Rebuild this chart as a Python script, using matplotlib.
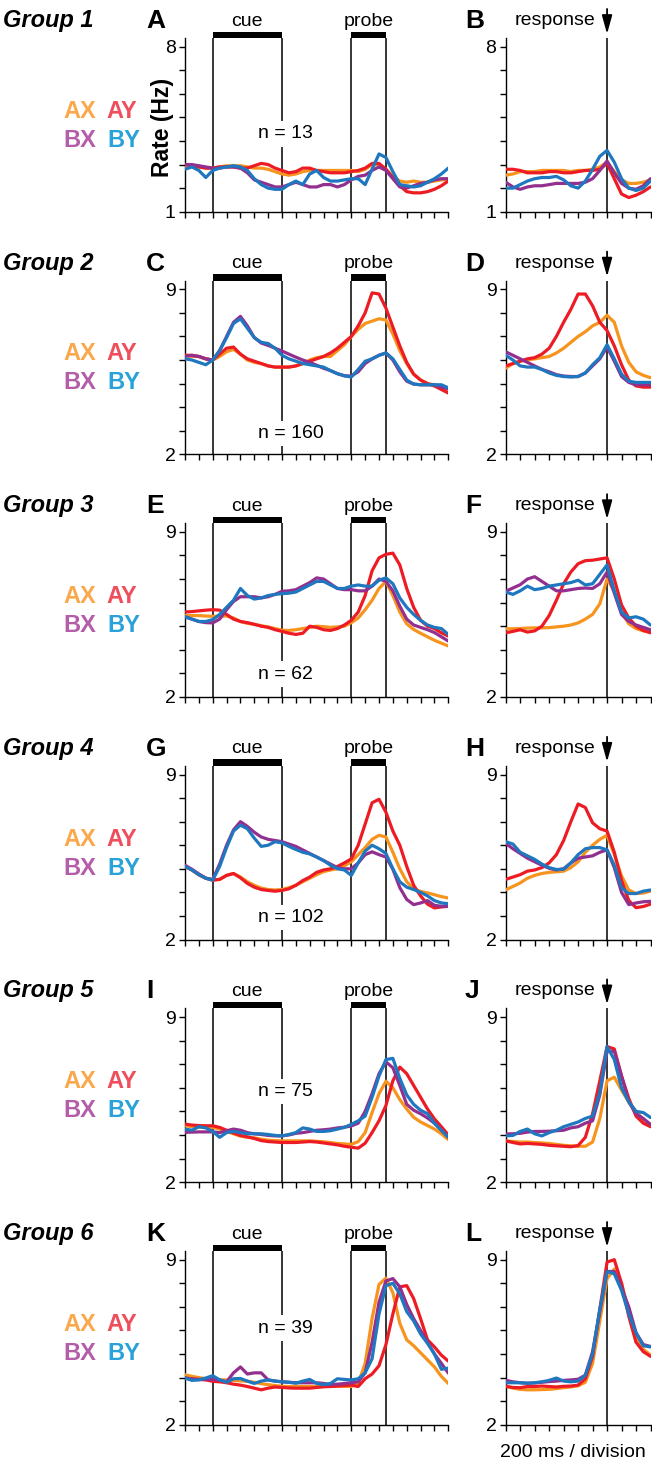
import numpy as np
import matplotlib.pyplot as plt
from matplotlib.patches import Rectangle

plt.rcParams['font.family'] = ['Liberation Sans', 'DejaVu Sans']

W, H = 652, 1463

# time grids (ms): trial-aligned and response-aligned
t_trial = np.arange(-400, 3401, 100)
t_resp = np.arange(-1400, 601, 100)

cue = (0, 1000)
probe = (2000, 2500)

conds = ['AX', 'AY', 'BX', 'BY']
line_colors = ['#F7941D', '#ED1C24', '#93308F', '#1F78BF']
label_colors = ['#F9A84C', '#EF4F5C', '#B45DA8', '#28A2D8']

groups = ['Group 1', 'Group 2', 'Group 3', 'Group 4', 'Group 5', 'Group 6']
letters = [('A', 'B'), ('C', 'D'), ('E', 'F'), ('G', 'H'), ('I', 'J'), ('K', 'L')]
n_cells = [13, 160, 62, 102, 75, 39]
n_ypos = [4.3, 2.87, 2.97, 2.94, 5.83, 6.1]
y_ranges = [(1, 8), (2, 9), (2, 9), (2, 9), (2, 9), (2, 9)]

# ---- Group 1 ----
g1_ax = [2.9, 2.95, 2.9, 2.85, 2.85, 2.9, 2.95, 2.95, 2.95, 2.9, 2.85, 2.85, 2.8, 2.7, 2.6, 2.55, 2.6, 2.7, 2.75, 2.75,
         2.75, 2.75, 2.75, 2.75, 2.75, 2.7, 2.8, 3.0, 3.0, 2.8, 2.5, 2.3, 2.25, 2.3, 2.25, 2.25, 2.3, 2.35, 2.35]
g1_ay = [3.0, 2.95, 2.9, 2.85, 2.85, 2.9, 2.9, 2.9, 2.85, 2.85, 2.95, 3.05, 3.0, 2.85, 2.75, 2.65, 2.7, 2.85, 2.85, 2.75,
         2.7, 2.65, 2.65, 2.65, 2.7, 2.75, 2.85, 3.05, 3.05, 2.8, 2.45, 2.1, 1.85, 1.8, 1.8, 1.85, 1.95, 2.1, 2.3]
g1_bx = [3.0, 3.0, 2.95, 2.9, 2.85, 2.85, 2.9, 2.9, 2.85, 2.65, 2.35, 2.25, 2.15, 2.05, 2.05, 2.15, 2.25, 2.15, 2.05, 2.05,
         2.15, 2.15, 2.05, 2.15, 2.35, 2.5, 2.55, 2.75, 2.9, 2.75, 2.4, 2.05, 2.0, 2.1, 2.2, 2.25, 2.35, 2.4, 2.4]
g1_by = [2.8, 2.9, 2.75, 2.45, 2.75, 2.85, 2.9, 2.95, 2.9, 2.75, 2.4, 2.15, 2.0, 1.95, 1.95, 2.15, 2.3, 2.15, 2.6, 2.75,
         2.45, 2.3, 2.3, 2.35, 2.4, 2.4, 2.15, 2.8, 3.45, 3.3, 2.7, 2.15, 2.1, 2.05, 2.1, 2.25, 2.4, 2.6, 2.85]
g1_ax_r = [2.55, 2.6, 2.7, 2.7, 2.7, 2.75, 2.75, 2.75, 2.75, 2.7, 2.75, 2.75, 2.8, 2.9, 3.1, 2.7, 2.35, 2.2, 2.2, 2.25, 2.35]
g1_ay_r = [2.8, 2.8, 2.75, 2.65, 2.65, 2.65, 2.7, 2.7, 2.65, 2.65, 2.7, 2.75, 2.75, 2.8, 3.05, 2.4, 1.75, 1.6, 1.7, 1.85, 2.05]
g1_bx_r = [2.25, 2.05, 1.95, 2.05, 2.1, 2.1, 2.15, 2.2, 2.2, 2.2, 2.2, 2.25, 2.4, 2.75, 3.15, 2.65, 2.2, 2.0, 1.95, 2.1, 2.4]
g1_by_r = [2.0, 2.0, 2.15, 2.3, 2.4, 2.45, 2.45, 2.5, 2.35, 2.1, 2.0, 2.3, 2.8, 3.35, 3.6, 3.1, 2.4, 2.0, 1.9, 2.0, 2.3]

# ---- Group 2 ----
g2_ax = [6.2, 6.15, 6.15, 6.05, 6.0, 6.15, 6.35, 6.45, 6.25, 6.0, 5.9, 5.85, 5.75, 5.7, 5.7, 5.7, 5.75, 5.85, 6.0, 6.1,
         6.15, 6.15, 6.4, 6.65, 7.0, 7.3, 7.55, 7.65, 7.75, 7.7, 7.1, 6.4, 5.85, 5.4, 5.15, 5.0, 4.95, 4.85, 4.75]
g2_ay = [6.2, 6.2, 6.15, 6.05, 6.0, 6.25, 6.5, 6.55, 6.25, 6.05, 5.95, 5.85, 5.75, 5.7, 5.7, 5.7, 5.75, 5.85, 5.95, 6.05,
         6.15, 6.3, 6.5, 6.75, 7.0, 7.45, 8.0, 8.85, 8.8, 8.2, 7.4, 6.6, 5.9, 5.4, 5.15, 5.0, 4.9, 4.75, 4.6]
g2_bx = [6.15, 6.2, 6.15, 6.05, 6.0, 6.4, 7.0, 7.6, 7.85, 7.45, 6.95, 6.72, 6.62, 6.5, 6.38, 6.25, 6.12, 6.0, 5.9, 5.78,
         5.65, 5.55, 5.42, 5.33, 5.32, 5.5, 5.85, 6.05, 6.2, 6.3, 6.0, 5.5, 5.1, 4.98, 4.95, 4.95, 4.95, 4.85, 4.78]
g2_by = [6.05, 6.0, 5.9, 5.8, 6.0, 6.4, 6.95, 7.55, 7.75, 7.35, 6.95, 6.75, 6.7, 6.5, 6.2, 6.05, 5.95, 5.85, 5.8, 5.75,
         5.7, 5.55, 5.42, 5.33, 5.28, 5.6, 5.95, 6.05, 6.2, 6.3, 6.05, 5.6, 5.15, 4.98, 4.95, 4.95, 4.95, 4.95, 4.82]
g2_ax_r = [5.65, 5.85, 5.95, 6.0, 6.05, 6.1, 6.15, 6.3, 6.5, 6.75, 7.0, 7.2, 7.45, 7.6, 7.9, 7.6, 6.6, 5.9, 5.5, 5.35, 5.25]
g2_ay_r = [5.75, 5.85, 5.95, 6.05, 6.1, 6.25, 6.5, 7.0, 7.6, 8.15, 8.8, 8.8, 8.3, 7.6, 7.25, 6.6, 5.8, 5.15, 4.9, 4.85, 4.85]
g2_bx_r = [6.35, 6.2, 6.05, 5.9, 5.75, 5.6, 5.5, 5.38, 5.32, 5.3, 5.3, 5.45, 5.75, 6.05, 6.55, 5.95, 5.3, 5.05, 4.95, 4.95, 4.95]
g2_by_r = [6.2, 6.0, 5.75, 5.7, 5.7, 5.6, 5.45, 5.35, 5.3, 5.28, 5.3, 5.45, 5.8, 6.1, 6.65, 6.05, 5.4, 5.1, 5.05, 5.05, 5.05]

# ---- Group 3 ----
g3_ax = [5.45, 5.45, 5.45, 5.43, 5.42, 5.42, 5.43, 5.35, 5.2, 5.12, 5.08, 5.02, 4.97, 4.9, 4.83, 4.82, 4.85, 4.9, 4.95, 5.0,
         4.98, 4.95, 4.97, 5.0, 5.15, 5.35, 5.7, 6.1, 6.6, 6.9, 6.3, 5.6, 5.1, 4.86, 4.7, 4.55, 4.4, 4.28, 4.16]
g3_ay = [5.6, 5.62, 5.65, 5.68, 5.7, 5.68, 5.5, 5.3, 5.2, 5.15, 5.08, 5.0, 4.95, 4.85, 4.78, 4.7, 4.65, 4.7, 5.0, 4.95,
         4.85, 4.82, 4.9, 5.05, 5.25, 5.6, 6.3, 7.35, 7.9, 8.05, 8.1, 7.6, 6.6, 5.8, 5.25, 5.0, 4.9, 4.72, 4.58]
g3_bx = [5.4, 5.3, 5.2, 5.15, 5.14, 5.3, 5.7, 6.05, 6.25, 6.25, 6.25, 6.2, 6.25, 6.35, 6.48, 6.5, 6.55, 6.7, 6.85, 7.05,
         7.0, 6.8, 6.6, 6.55, 6.55, 6.5, 6.5, 6.7, 7.0, 6.9, 6.5, 5.85, 5.3, 5.05, 4.95, 4.85, 4.73, 4.55, 4.37]
g3_by = [5.4, 5.3, 5.2, 5.2, 5.28, 5.5, 5.8, 6.1, 6.6, 6.3, 6.15, 6.2, 6.3, 6.35, 6.38, 6.4, 6.45, 6.6, 6.75, 6.9,
         6.9, 6.75, 6.6, 6.6, 6.7, 6.75, 6.7, 6.7, 6.95, 7.05, 6.8, 6.2, 5.8, 5.5, 5.25, 5.05, 4.95, 4.9, 4.65]
g3_ax_r = [4.89, 4.89, 4.9, 4.92, 4.93, 4.93, 4.94, 4.97, 5.0, 5.05, 5.14, 5.3, 5.5, 5.95, 7.0, 6.5, 5.6, 5.1, 4.9, 4.8, 4.75]
g3_ay_r = [4.72, 4.78, 4.85, 4.75, 4.8, 5.0, 5.45, 6.1, 6.8, 7.3, 7.65, 7.78, 7.8, 7.85, 7.9, 7.0, 5.9, 5.35, 5.0, 4.82, 4.72]
g3_bx_r = [6.48, 6.62, 6.76, 7.0, 7.1, 6.9, 6.7, 6.5, 6.5, 6.55, 6.6, 6.62, 6.6, 6.8, 7.3, 6.4, 5.5, 5.2, 5.05, 4.95, 4.85]
g3_by_r = [6.45, 6.35, 6.5, 6.7, 6.55, 6.6, 6.7, 6.75, 6.8, 6.85, 6.95, 6.75, 6.8, 7.2, 7.6, 6.5, 5.6, 5.35, 5.4, 5.3, 5.05]

# ---- Group 4 ----
g4_ax = [5.1, 4.95, 4.75, 4.6, 4.52, 4.55, 4.72, 4.8, 4.65, 4.45, 4.3, 4.18, 4.12, 4.1, 4.12, 4.2, 4.3, 4.45, 4.6, 4.75,
         4.88, 4.95, 5.0, 5.12, 5.3, 5.6, 5.9, 6.25, 6.42, 6.35, 5.7, 5.0, 4.45, 4.15, 4.04, 3.98, 3.9, 3.82, 3.76]
g4_ay = [5.1, 4.95, 4.75, 4.6, 4.52, 4.55, 4.72, 4.8, 4.62, 4.38, 4.22, 4.12, 4.08, 4.05, 4.08, 4.15, 4.3, 4.5, 4.65, 4.85,
         4.95, 5.0, 5.1, 5.25, 5.42, 6.0, 6.9, 7.8, 7.95, 7.4, 6.6, 6.0, 5.1, 4.3, 3.85, 3.5, 3.34, 3.38, 3.41]
g4_bx = [5.15, 4.98, 4.78, 4.6, 4.55, 5.2, 6.0, 6.65, 7.0, 6.8, 6.55, 6.35, 6.25, 6.2, 6.15, 6.05, 5.95, 5.8, 5.65, 5.5,
         5.35, 5.2, 5.05, 5.0, 5.0, 5.25, 5.6, 5.72, 5.6, 5.5, 4.98, 4.2, 3.7, 3.48, 3.55, 3.65, 3.45, 3.41, 3.41]
g4_by = [5.1, 4.95, 4.75, 4.6, 4.52, 5.1, 5.9, 6.6, 6.85, 6.7, 6.3, 5.95, 6.0, 6.15, 6.1, 5.95, 5.82, 5.7, 5.63, 5.5,
         5.35, 5.15, 5.0, 4.95, 4.72, 5.25, 5.75, 6.0, 5.85, 5.65, 5.0, 4.45, 4.22, 4.12, 4.0, 3.85, 3.65, 3.55, 3.52]
g4_ax_r = [4.11, 4.25, 4.4, 4.6, 4.72, 4.8, 4.85, 4.87, 4.9, 5.05, 5.3, 5.7, 6.0, 6.25, 6.42, 5.6, 4.7, 4.1, 3.95, 3.97, 4.05]
g4_ay_r = [4.55, 4.65, 4.75, 4.9, 4.95, 5.05, 5.25, 5.6, 6.2, 7.0, 7.75, 7.6, 6.95, 6.7, 6.6, 5.7, 4.5, 3.65, 3.35, 3.4, 3.5]
g4_bx_r = [6.08, 5.85, 5.65, 5.45, 5.3, 5.15, 5.02, 4.95, 5.0, 5.25, 5.45, 5.5, 5.55, 5.7, 5.8, 5.05, 4.0, 3.48, 3.55, 3.6, 3.62]
g4_by_r = [6.15, 6.05, 5.7, 5.55, 5.4, 5.2, 5.05, 4.97, 4.98, 5.25, 5.6, 5.85, 5.9, 5.9, 5.8, 5.15, 4.2, 3.95, 3.95, 4.05, 4.1]

# ---- Group 5 ----
g5_ax = [4.39, 4.35, 4.33, 4.32, 4.32, 4.25, 4.15, 4.05, 3.95, 3.9, 3.88, 3.82, 3.78, 3.76, 3.75, 3.75, 3.75, 3.75, 3.75, 3.73,
         3.71, 3.68, 3.64, 3.62, 3.6, 3.72, 4.1, 4.95, 5.75, 6.28, 6.0, 5.5, 5.1, 4.75, 4.55, 4.4, 4.25, 4.05, 3.8]
g5_ay = [4.46, 4.42, 4.4, 4.39, 4.39, 4.32, 4.2, 4.08, 3.98, 3.92, 3.85, 3.76, 3.72, 3.7, 3.68, 3.68, 3.68, 3.7, 3.72, 3.7,
         3.66, 3.62, 3.58, 3.52, 3.48, 3.44, 3.65, 4.1, 4.6, 5.25, 6.3, 6.88, 6.6, 6.1, 5.6, 5.1, 4.68, 4.35, 4.0]
g5_bx = [4.11, 4.12, 4.13, 4.13, 4.13, 4.1, 4.18, 4.25, 4.2, 4.1, 4.05, 4.02, 3.98, 3.96, 3.96, 4.0, 4.07, 4.1, 4.15, 4.2,
         4.22, 4.25, 4.3, 4.33, 4.38, 4.5, 5.0, 5.75, 6.6, 7.1, 6.85, 6.1, 5.3, 5.05, 4.9, 4.72, 4.5, 4.2, 3.9]
g5_by = [4.25, 4.2, 4.35, 4.3, 4.15, 3.9, 4.1, 4.15, 4.1, 4.05, 4.05, 4.05, 4.02, 3.98, 3.96, 4.02, 4.1, 4.3, 4.25, 4.15,
         4.15, 4.18, 4.25, 4.32, 4.45, 4.6, 4.8, 5.6, 6.5, 7.2, 7.25, 6.4, 5.7, 5.3, 5.05, 4.9, 4.5, 4.2, 3.9]
g5_ax_r = [3.75, 3.72, 3.7, 3.7, 3.68, 3.66, 3.64, 3.6, 3.56, 3.54, 3.52, 3.52, 3.7, 4.7, 6.3, 6.45, 5.9, 5.4, 5.0, 4.65, 4.42]
g5_ay_r = [3.75, 3.68, 3.62, 3.64, 3.62, 3.6, 3.56, 3.54, 3.52, 3.5, 3.55, 3.9, 4.9, 6.3, 7.75, 7.65, 6.5, 5.55, 4.8, 4.5, 4.35]
g5_bx_r = [4.04, 4.05, 4.07, 4.12, 4.15, 4.15, 4.16, 4.18, 4.2, 4.3, 4.35, 4.5, 4.6, 5.7, 7.55, 7.55, 6.5, 5.4, 4.9, 4.7, 4.45]
g5_by_r = [3.96, 3.98, 4.15, 4.25, 4.05, 3.96, 4.1, 4.2, 4.35, 4.45, 4.55, 4.7, 4.8, 5.8, 7.75, 7.2, 6.0, 5.4, 5.0, 4.95, 4.74]

# ---- Group 6 ----
g6_ax = [4.12, 4.05, 4.0, 3.95, 3.91, 3.9, 3.9, 3.88, 3.86, 3.84, 3.8, 3.74, 3.7, 3.66, 3.63, 3.62, 3.62, 3.62, 3.62, 3.62,
         3.62, 3.63, 3.63, 3.63, 3.62, 3.75, 4.6, 6.5, 7.95, 8.22, 7.6, 6.3, 5.6, 5.35, 5.05, 4.75, 4.45, 4.05, 3.75]
g6_ay = [3.98, 3.94, 3.92, 3.9, 3.84, 3.82, 3.78, 3.72, 3.68, 3.62, 3.55, 3.48, 3.55, 3.6, 3.58, 3.56, 3.55, 3.55, 3.55, 3.58,
         3.61, 3.62, 3.64, 3.66, 3.68, 3.62, 3.95, 4.15, 4.5, 5.4, 6.7, 7.85, 7.9, 7.35, 6.5, 5.6, 5.3, 4.95, 4.7]
g6_bx = [3.98, 3.94, 3.92, 3.92, 3.92, 3.9, 3.82, 4.2, 4.45, 4.15, 4.2, 4.2, 3.9, 3.85, 3.82, 3.8, 3.78, 3.78, 3.78, 3.78,
         3.75, 3.7, 3.72, 3.75, 3.78, 3.82, 4.2, 5.5, 7.2, 8.1, 8.2, 7.85, 7.1, 6.5, 6.0, 5.5, 5.0, 4.6, 4.19]
g6_by = [3.98, 3.88, 3.9, 3.98, 4.08, 3.9, 3.8, 3.95, 3.96, 3.85, 3.75, 3.85, 3.9, 3.85, 3.82, 3.8, 3.76, 3.85, 3.92, 3.75,
         3.7, 3.75, 3.95, 3.92, 3.9, 3.95, 4.2, 4.8, 6.7, 7.9, 8.0, 7.55, 6.8, 6.4, 5.85, 5.45, 5.0, 4.35, 4.4]
g6_ax_r = [3.63, 3.55, 3.5, 3.48, 3.48, 3.49, 3.5, 3.53, 3.57, 3.6, 3.65, 3.8, 4.6, 6.4, 8.2, 8.6, 8.0, 6.8, 5.8, 5.2, 4.95]
g6_ay_r = [3.63, 3.58, 3.57, 3.62, 3.62, 3.64, 3.62, 3.6, 3.63, 3.64, 3.68, 3.95, 4.9, 6.9, 8.9, 9.0, 8.0, 6.6, 5.5, 5.1, 4.9]
g6_bx_r = [3.88, 3.82, 3.78, 3.76, 3.77, 3.8, 3.83, 3.85, 3.88, 3.9, 3.93, 4.1, 5.1, 6.8, 8.5, 8.5, 7.8, 7.0, 5.9, 5.4, 5.32]
g6_by_r = [3.78, 3.78, 3.78, 3.76, 3.78, 3.82, 3.88, 3.98, 3.85, 3.82, 3.85, 4.1, 5.0, 6.9, 8.5, 8.4, 7.7, 6.7, 5.9, 5.35, 5.3]

trial_data = [
    [g1_ax, g1_ay, g1_bx, g1_by],
    [g2_ax, g2_ay, g2_bx, g2_by],
    [g3_ax, g3_ay, g3_bx, g3_by],
    [g4_ax, g4_ay, g4_bx, g4_by],
    [g5_ax, g5_ay, g5_bx, g5_by],
    [g6_ax, g6_ay, g6_bx, g6_by],
]
resp_data = [
    [g1_ax_r, g1_ay_r, g1_bx_r, g1_by_r],
    [g2_ax_r, g2_ay_r, g2_bx_r, g2_by_r],
    [g3_ax_r, g3_ay_r, g3_bx_r, g3_by_r],
    [g4_ax_r, g4_ay_r, g4_bx_r, g4_by_r],
    [g5_ax_r, g5_ay_r, g5_bx_r, g5_by_r],
    [g6_ax_r, g6_ay_r, g6_bx_r, g6_by_r],
]

# layout in pixels
unit = 23.57      # px per Hz
pad_top = 0.37    # axis extends a bit above the top tick
row_step = 242.6
first_bottom = 211.7
left_x0, left_x1 = 185.0, 448.3
right_x0, right_x1 = 505.7, 650.5
fs = 14


def fx(px):
    return px / W


def fy(py):
    return 1 - py / H


def style_axes(ax, lo, hi, xlim, xticks):
    ax.set_facecolor('none')
    ax.set_xlim(*xlim)
    ax.set_ylim(lo, hi + pad_top)
    for s in ['top', 'right']:
        ax.spines[s].set_visible(False)
    for s in ['left', 'bottom']:
        ax.spines[s].set_linewidth(1.0)
    ax.set_xticks(xticks)
    ax.set_xticklabels([])
    yt = list(range(lo, hi + 1))
    ax.set_yticks(yt)
    ax.set_yticklabels([str(v) if v in (lo, hi) else '' for v in yt])
    ax.tick_params(direction='out', length=4.2, width=1.0, pad=2.5, labelsize=fs)


fig = plt.figure(figsize=(W / 100, H / 100), dpi=100)

for k in range(6):
    bottom = first_bottom + row_step * k
    lo, hi = y_ranges[k]
    top = hi + pad_top
    h_px = (top - lo) * unit

    axL = fig.add_axes([fx(left_x0), fy(bottom), (left_x1 - left_x0) / W, h_px / H])
    axR = fig.add_axes([fx(right_x0), fy(bottom), (right_x1 - right_x0) / W, h_px / H])
    style_axes(axL, lo, hi, (-400, 3400), np.arange(-400, 3401, 200))
    style_axes(axR, lo, hi, (-1400, 600), np.arange(-1400, 601, 200))

    # event markers: cue and probe
    for (on, off), name in [(cue, 'cue'), (probe, 'probe')]:
        axL.axvline(on, color='k', lw=1.1, zorder=1)
        axL.axvline(off, color='k', lw=1.1, zorder=1)
        axL.add_patch(Rectangle((on, top), off - on, 6.3 / unit, color='k', clip_on=False, lw=0))
        axL.text((on + off) / 2, top + 12.3 / unit, name, ha='center', va='baseline', fontsize=fs)

    axR.axvline(0, color='k', lw=1.1, zorder=1)
    axR.annotate('', xy=(0, top + 4 / unit), xytext=(0, top + 29 / unit),
                 arrowprops=dict(arrowstyle='-|>,head_length=0.8,head_width=0.22', color='k', lw=1.3,
                                 mutation_scale=14, shrinkA=0, shrinkB=0),
                 annotation_clip=False)
    axR.text(-160, top + 13 / unit, 'response', ha='right', va='baseline', fontsize=fs)

    for vals, c in zip(trial_data[k], line_colors):
        axL.plot(t_trial, vals, color=c, lw=2.3, solid_capstyle='round', solid_joinstyle='round', zorder=3)
    for vals, c in zip(resp_data[k], line_colors):
        axR.plot(t_resp, vals, color=c, lw=2.3, solid_capstyle='round', solid_joinstyle='round', zorder=3)

    axL.text(650, n_ypos[k], 'n = %d' % n_cells[k], ha='left', va='center', fontsize=fs, zorder=5,
             bbox=dict(facecolor='white', edgecolor='none', pad=3))

    # row labels
    fig.text(fx(3), fy(bottom - 184.7), groups[k], fontsize=17, weight='bold', style='italic',
             ha='left', va='baseline')
    fig.text(fx(146), fy(bottom - 183.7), letters[k][0], fontsize=19, weight='bold', ha='left', va='baseline')
    fig.text(fx(465), fy(bottom - 183.7), letters[k][1], fontsize=19, weight='bold', ha='left', va='baseline')

    # condition legend
    fig.text(fx(63), fy(bottom - 94), 'AX', color=label_colors[0], fontsize=17, weight='bold', va='baseline')
    fig.text(fx(106.5), fy(bottom - 94), 'AY', color=label_colors[1], fontsize=17, weight='bold', va='baseline')
    fig.text(fx(63), fy(bottom - 65), 'BX', color=label_colors[2], fontsize=17, weight='bold', va='baseline')
    fig.text(fx(107.5), fy(bottom - 65), 'BY', color=label_colors[3], fontsize=17, weight='bold', va='baseline')

fig.text(fx(162), fy(127), 'Rate (Hz)', rotation=90, fontsize=16.5, weight='bold', ha='center', va='center')
fig.text(fx(573), fy(1457), '200 ms / division', fontsize=fs, ha='center', va='baseline')

fig.savefig('out.png', dpi=100)
